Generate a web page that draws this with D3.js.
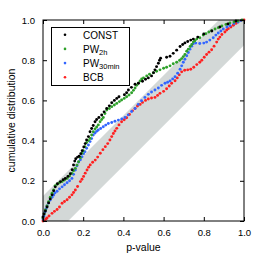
<!DOCTYPE html>
<html>
<head>
<meta charset="utf-8">
<script src="https://cdn.jsdelivr.net/npm/d3@7"></script>
<style>
html,body{margin:0;padding:0;background:#fff;}
svg{display:block;font-family:"Liberation Sans",Arial,Helvetica,sans-serif;}
</style>
</head>
<body>
<svg id="chart" width="260" height="260"></svg>
<script>
// ---- data (p-value, cumulative fraction) ----
const seriesNames = ["CONST", "PW", "PW", "BCB"];
const seriesSubs = ["", "2h", "30min", ""];
const seriesColors = ["#000000", "#2ea12a", "#3366ff", "#ff2020"];

const constPts = [[0.0,0.02],[0.005,0.035],[0.012,0.05],[0.02,0.07],[0.028,0.09],[0.036,0.11],[0.045,0.13],[0.053,0.15],[0.061,0.17],[0.072,0.185],[0.087,0.196],[0.100,0.205],[0.111,0.212],[0.124,0.222],[0.136,0.235],[0.145,0.255],[0.152,0.279],[0.158,0.298],[0.163,0.31],[0.172,0.318],[0.180,0.322],[0.188,0.335],[0.195,0.35],[0.203,0.368],[0.210,0.385],[0.217,0.403],[0.226,0.42],[0.234,0.444],[0.242,0.46],[0.250,0.475],[0.259,0.494],[0.267,0.505],[0.278,0.515],[0.292,0.527],[0.304,0.543],[0.317,0.56],[0.330,0.573],[0.342,0.588],[0.355,0.60],[0.367,0.61],[0.378,0.618],[0.405,0.628],[0.416,0.638],[0.425,0.652],[0.440,0.665],[0.458,0.68],[0.475,0.685],[0.495,0.695],[0.510,0.705],[0.524,0.712],[0.540,0.722],[0.550,0.738],[0.557,0.752],[0.565,0.768],[0.574,0.785],[0.580,0.80],[0.585,0.81],[0.615,0.815],[0.632,0.82],[0.648,0.834],[0.665,0.85],[0.682,0.868],[0.695,0.878],[0.706,0.886],[0.720,0.893],[0.735,0.9],[0.748,0.905],[0.77,0.915],[0.80,0.93],[0.84,0.945],[0.88,0.965],[0.92,0.98],[0.96,0.995]];

const pw2hPts = [[0.0,0.015],[0.006,0.035],[0.012,0.055],[0.02,0.075],[0.028,0.096],[0.036,0.118],[0.045,0.138],[0.053,0.155],[0.06,0.175],[0.07,0.183],[0.082,0.19],[0.095,0.196],[0.107,0.204],[0.12,0.212],[0.132,0.224],[0.144,0.237],[0.152,0.25],[0.161,0.262],[0.169,0.278],[0.177,0.295],[0.186,0.315],[0.194,0.337],[0.20,0.35],[0.209,0.37],[0.217,0.39],[0.226,0.40],[0.234,0.411],[0.242,0.428],[0.250,0.444],[0.259,0.458],[0.267,0.468],[0.275,0.478],[0.284,0.494],[0.292,0.505],[0.300,0.515],[0.308,0.535],[0.317,0.552],[0.330,0.56],[0.342,0.569],[0.355,0.577],[0.367,0.585],[0.380,0.594],[0.391,0.602],[0.404,0.61],[0.416,0.618],[0.428,0.627],[0.441,0.638],[0.45,0.65],[0.458,0.662],[0.466,0.675],[0.474,0.685],[0.483,0.697],[0.491,0.707],[0.50,0.712],[0.516,0.722],[0.53,0.73],[0.549,0.737],[0.565,0.745],[0.582,0.752],[0.60,0.76],[0.615,0.765],[0.632,0.772],[0.648,0.782],[0.665,0.79],[0.68,0.80],[0.69,0.808],[0.698,0.818],[0.706,0.828],[0.715,0.845],[0.723,0.855],[0.732,0.868],[0.74,0.878],[0.748,0.89],[0.756,0.897],[0.765,0.905],[0.78,0.912],[0.797,0.925],[0.81,0.932],[0.825,0.94],[0.839,0.947],[0.856,0.955],[0.872,0.962],[0.89,0.97],[0.91,0.978],[0.93,0.985],[0.95,0.99],[0.97,0.995],[0.99,1.0]];

const pw30Pts = [[0.0,0.01],[0.005,0.025],[0.01,0.045],[0.015,0.06],[0.02,0.075],[0.028,0.09],[0.036,0.104],[0.045,0.118],[0.053,0.129],[0.06,0.14],[0.07,0.148],[0.082,0.16],[0.095,0.17],[0.107,0.18],[0.12,0.19],[0.132,0.2],[0.144,0.212],[0.152,0.232],[0.161,0.254],[0.169,0.275],[0.177,0.293],[0.186,0.305],[0.194,0.32],[0.202,0.335],[0.209,0.345],[0.217,0.362],[0.226,0.378],[0.234,0.395],[0.242,0.41],[0.25,0.428],[0.259,0.438],[0.267,0.446],[0.275,0.453],[0.287,0.46],[0.30,0.469],[0.312,0.477],[0.325,0.485],[0.342,0.49],[0.358,0.496],[0.375,0.502],[0.392,0.508],[0.408,0.515],[0.424,0.528],[0.441,0.545],[0.458,0.56],[0.474,0.58],[0.49,0.598],[0.507,0.615],[0.524,0.63],[0.54,0.642],[0.557,0.652],[0.574,0.662],[0.59,0.675],[0.607,0.685],[0.62,0.69],[0.632,0.697],[0.645,0.707],[0.657,0.718],[0.67,0.735],[0.682,0.755],[0.69,0.772],[0.698,0.79],[0.706,0.805],[0.715,0.822],[0.723,0.838],[0.731,0.855],[0.74,0.87],[0.748,0.882],[0.76,0.885],[0.78,0.883],[0.80,0.885],[0.814,0.89],[0.83,0.9],[0.847,0.912],[0.86,0.925],[0.872,0.935],[0.885,0.945],[0.897,0.955],[0.915,0.965],[0.93,0.972],[0.95,0.982],[0.97,0.99],[0.985,0.997]];

const bcbPts = [[0.0,0.0],[0.008,0.005],[0.015,0.01],[0.02,0.015],[0.03,0.025],[0.045,0.038],[0.057,0.048],[0.07,0.057],[0.082,0.07],[0.095,0.088],[0.107,0.097],[0.12,0.106],[0.132,0.118],[0.144,0.13],[0.152,0.142],[0.161,0.154],[0.172,0.172],[0.186,0.196],[0.194,0.208],[0.202,0.222],[0.21,0.238],[0.219,0.254],[0.227,0.268],[0.235,0.279],[0.247,0.292],[0.26,0.303],[0.272,0.318],[0.285,0.337],[0.298,0.355],[0.31,0.37],[0.322,0.385],[0.333,0.403],[0.342,0.42],[0.35,0.435],[0.358,0.448],[0.367,0.461],[0.378,0.478],[0.391,0.494],[0.404,0.504],[0.416,0.514],[0.43,0.53],[0.445,0.548],[0.458,0.56],[0.47,0.572],[0.483,0.58],[0.495,0.59],[0.51,0.6],[0.524,0.607],[0.54,0.612],[0.557,0.615],[0.57,0.625],[0.582,0.635],[0.6,0.645],[0.615,0.658],[0.628,0.672],[0.64,0.685],[0.657,0.698],[0.668,0.712],[0.678,0.727],[0.69,0.742],[0.705,0.75],[0.72,0.752],[0.735,0.755],[0.75,0.765],[0.765,0.778],[0.78,0.79],[0.79,0.8],[0.802,0.815],[0.814,0.828],[0.826,0.84],[0.839,0.852],[0.851,0.87],[0.864,0.89],[0.872,0.905],[0.88,0.915],[0.89,0.928],[0.905,0.94],[0.914,0.95],[0.922,0.957],[0.935,0.965],[0.947,0.974],[0.96,0.983],[0.97,0.99],[0.985,0.997],[1.0,1.0]];

// gray confidence band polygon around the diagonal
const bandPoly = [[0,0],[0,0.125],[0.875,1],[1,1],[1,0.875],[0.125,0]];

const tickValues = [0, 0.2, 0.4, 0.6, 0.8, 1.0];
const tickLabels = ["0.0", "0.2", "0.4", "0.6", "0.8", "1.0"];
const xTitle = "p-value";
const yTitle = "cumulative distribution";

// ---- drawing ----
const allSeries = [constPts, pw2hPts, pw30Pts, bcbPts];
const svg = d3.select("#chart");
const L = 43, R = 244, T = 20, B = 221;
const x = d3.scaleLinear().domain([0, 1]).range([L, R]);
const y = d3.scaleLinear().domain([0, 1]).range([B, T]);

svg.append("path")
  .attr("d", d3.line().x(d => x(d[0])).y(d => y(d[1]))(bandPoly) + "Z")
  .attr("fill", "#d3d8d7");

// series (draw BCB first so CONST ends on top)
const order = [3, 2, 1, 0];
order.forEach(i => {
  svg.append("g").selectAll("circle").data(allSeries[i]).join("circle")
    .attr("cx", d => x(d[0])).attr("cy", d => y(d[1]))
    .attr("r", 1.45).attr("fill", seriesColors[i]);
});

// axes with inward ticks on all sides
const fmt = (d) => tickLabels[tickValues.indexOf(d)];
const axB = d3.axisBottom(x).tickValues(tickValues).tickSizeInner(-4).tickSizeOuter(0).tickPadding(8).tickFormat(fmt);
const axL = d3.axisLeft(y).tickValues(tickValues).tickSizeInner(-4).tickSizeOuter(0).tickPadding(8).tickFormat(fmt);
const axT = d3.axisTop(x).tickValues(tickValues).tickSizeInner(-4).tickSizeOuter(0).tickFormat("");
const axR = d3.axisRight(y).tickValues(tickValues).tickSizeInner(-4).tickSizeOuter(0).tickFormat("");

function styleAxis(g) {
  g.select(".domain").remove();
  g.selectAll("line").attr("stroke", "#000").attr("stroke-width", 1);
  g.selectAll("text").attr("font-size", "9.5px").attr("fill", "#000")
    .attr("font-family", '"Liberation Sans",Arial,sans-serif');
}
svg.append("g").attr("transform", `translate(0,${B})`).call(axB).call(styleAxis);
svg.append("g").attr("transform", `translate(${L},0)`).call(axL).call(styleAxis);
svg.append("g").attr("transform", `translate(0,${T})`).call(axT).call(styleAxis);
svg.append("g").attr("transform", `translate(${R},0)`).call(axR).call(styleAxis);

svg.append("rect").attr("x", L).attr("y", T).attr("width", R - L).attr("height", B - T)
  .attr("fill", "none").attr("stroke", "#000").attr("stroke-width", 1);

// axis titles
svg.append("text").attr("x", (L + R) / 2).attr("y", 251).attr("text-anchor", "middle")
  .attr("font-size", "10.5px").text(xTitle);
svg.append("text").attr("transform", `translate(15,${(T + B) / 2}) rotate(-90)`)
  .attr("text-anchor", "middle").attr("font-size", "10.5px").text(yTitle);

// legend
const lg = svg.append("g");
lg.append("rect").attr("x", 51.5).attr("y", 27.5).attr("width", 78).attr("height", 58)
  .attr("fill", "#fff").attr("stroke", "#000").attr("stroke-width", 1);
seriesNames.forEach((name, i) => {
  const by = 38.5 + i * 14.2;
  lg.append("circle").attr("cx", 65).attr("cy", by - 3.8).attr("r", 1.3).attr("fill", seriesColors[i]);
  const t = lg.append("text").attr("x", 83).attr("y", by).attr("font-size", "10px").attr("fill", "#000");
  t.append("tspan").text(name);
  if (seriesSubs[i]) {
    t.append("tspan").attr("font-size", "7.5px").attr("dy", 2).text(seriesSubs[i]);
  }
});
</script>
</body>
</html>
